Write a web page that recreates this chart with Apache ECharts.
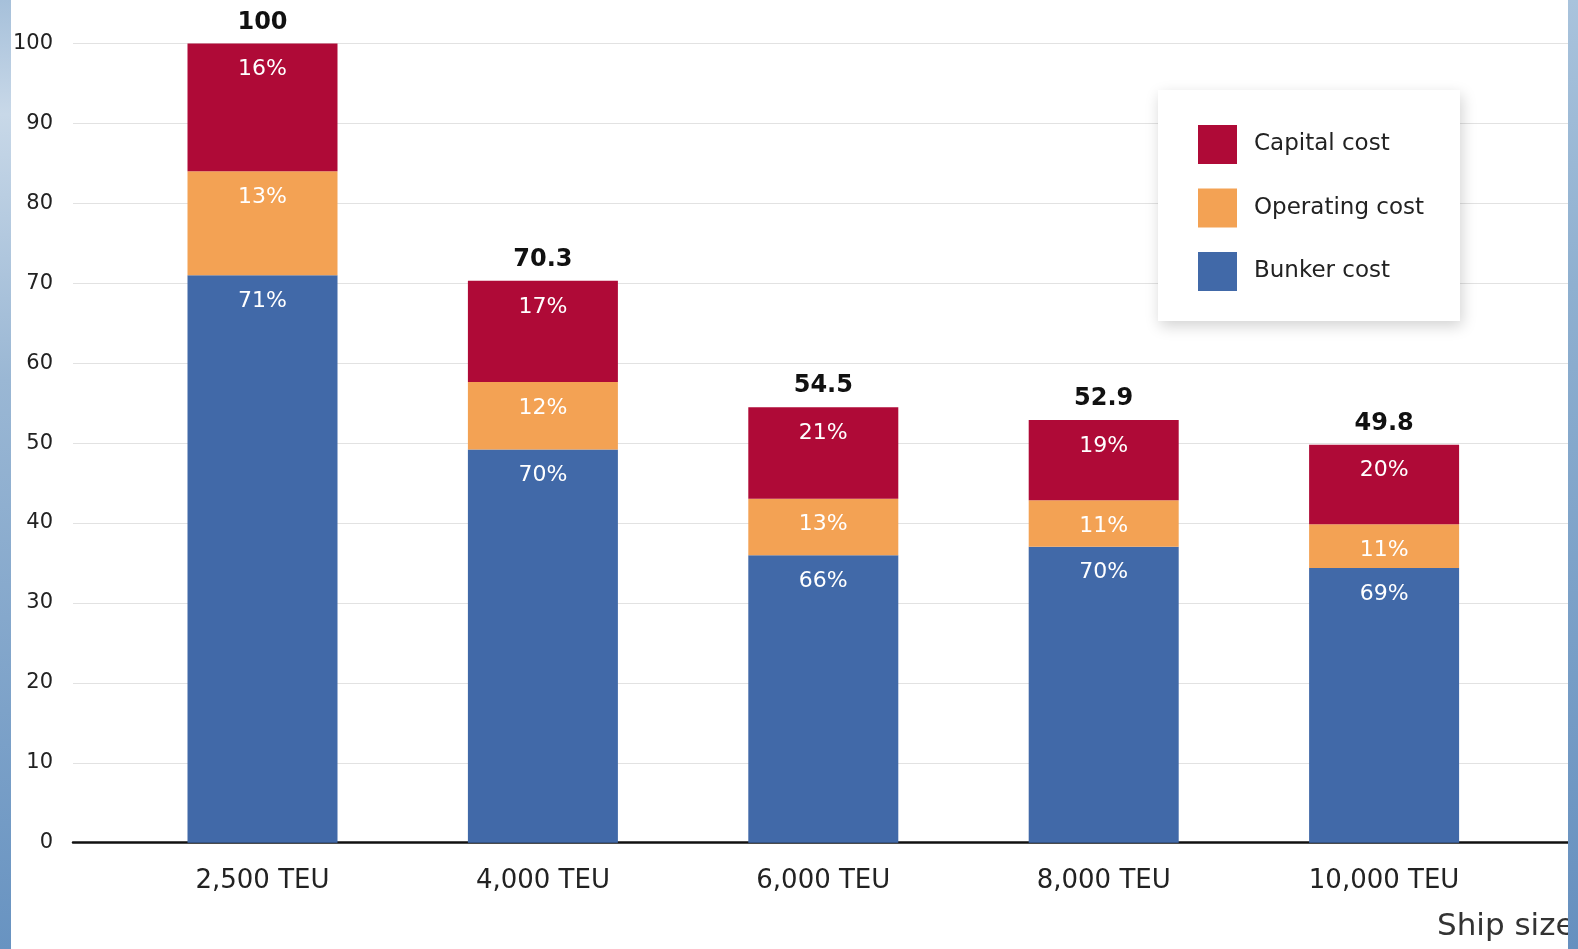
<!DOCTYPE html>
<html>
<head>
<meta charset="utf-8">
<script src="https://cdn.jsdelivr.net/npm/echarts@6/dist/echarts.min.js"></script>
<style>
  html, body { margin: 0; padding: 0; background: #ffffff; }
  #chart { width: 1578px; height: 949px; }
</style>
</head>
<body>
<div id="chart"></div>
<script>
// Ship sizes and cost index (2,500 TEU = 100)
const categories = ['2,500 TEU', '4,000 TEU', '6,000 TEU', '8,000 TEU', '10,000 TEU'];
const totals = [100, 70.3, 54.5, 52.9, 49.8];
// Share of each cost component in the total, percent
const capitalPct = [16, 17, 21, 19, 20];
const operatingPct = [13, 12, 13, 11, 11];
const bunkerPct = [71, 70, 66, 70, 69];
const yTicks = [0, 10, 20, 30, 40, 50, 60, 70, 80, 90, 100];

const COLORS = { capital: '#af0a37', operating: '#f3a254', bunker: '#4169a8' };
const FONT = 'DejaVu Sans';

// Segment heights: bunker and operating from their shares, capital fills up to the total
const bunker = totals.map((t, i) => +(t * bunkerPct[i] / 100).toFixed(2));
const operating = totals.map((t, i) => +(t * operatingPct[i] / 100).toFixed(2));
const capital = totals.map((t, i) => +(t - bunker[i] - operating[i]).toFixed(2));

const pctLabel = (arr) => ({
  show: true,
  position: 'insideTop',
  distance: 15,
  color: '#ffffff',
  fontFamily: FONT,
  fontSize: 22,
  formatter: (p) => arr[p.dataIndex] + '%'
});

const gridTop = 43.5, gridBottom = 949 - 842.7;

const chart = echarts.init(document.getElementById('chart'), null, { renderer: 'canvas' });
chart.setOption({
  backgroundColor: '#ffffff',
  animation: false,
  grid: [
    // full-width grid carrying the value scale and its gridlines
    { left: 73, right: 9, top: gridTop, bottom: gridBottom },
    // grid for the bars and ship-size categories
    { left: 122.3, right: 53.7, top: gridTop, bottom: gridBottom }
  ],
  xAxis: [
    {
      gridIndex: 0, type: 'category', data: [''],
      axisLine: { show: true, lineStyle: { color: '#111111', width: 2.5 } },
      axisTick: { show: false }, axisLabel: { show: false }
    },
    {
      gridIndex: 1, type: 'category', data: categories,
      axisLine: { show: false }, axisTick: { show: false },
      axisLabel: { color: '#222222', fontFamily: FONT, fontSize: 26, margin: 26 }
    }
  ],
  yAxis: [
    {
      gridIndex: 0, type: 'value', min: yTicks[0], max: yTicks[yTicks.length - 1], interval: 10,
      axisLine: { show: false }, axisTick: { show: false },
      axisLabel: { color: '#222222', fontFamily: FONT, fontSize: 21, margin: 20 },
      splitLine: { show: true, lineStyle: { color: '#e2e2e2', width: 1.2 } }
    },
    {
      gridIndex: 1, type: 'value', min: yTicks[0], max: yTicks[yTicks.length - 1], interval: 10,
      show: false, splitLine: { show: false }
    }
  ],
  legend: {
    data: ['Capital cost', 'Operating cost', 'Bunker cost'],
    orient: 'vertical',
    left: 1158, top: 90,
    padding: [35, 36, 30, 40],
    itemWidth: 39, itemHeight: 39, itemGap: 24.5,
    icon: 'rect',
    backgroundColor: '#ffffff',
    shadowBlur: 14, shadowOffsetX: 2, shadowOffsetY: 5, shadowColor: 'rgba(0,0,0,0.18)',
    textStyle: { color: '#222222', fontFamily: FONT, fontSize: 23, padding: [0, 0, 0, 12] },
    selectedMode: false
  },
  series: [
    {
      name: 'Bunker cost', type: 'bar', stack: 'cost', xAxisIndex: 1, yAxisIndex: 1,
      barWidth: 150, barGap: '-100%', data: bunker,
      itemStyle: { color: COLORS.bunker }, label: pctLabel(bunkerPct)
    },
    {
      name: 'Operating cost', type: 'bar', stack: 'cost', xAxisIndex: 1, yAxisIndex: 1,
      barWidth: 150, data: operating,
      itemStyle: { color: COLORS.operating }, label: pctLabel(operatingPct)
    },
    {
      name: 'Capital cost', type: 'bar', stack: 'cost', xAxisIndex: 1, yAxisIndex: 1,
      barWidth: 150, data: capital,
      itemStyle: { color: COLORS.capital }, label: pctLabel(capitalPct)
    },
    {
      // total index written above each stack
      name: 'Total', type: 'bar', xAxisIndex: 1, yAxisIndex: 1,
      barWidth: 150, barGap: '-100%', data: totals, z: 1,
      itemStyle: { color: 'rgba(0,0,0,0)' },
      label: {
        show: true, position: 'top', distance: 9,
        color: '#111111', fontFamily: FONT, fontWeight: 'bold', fontSize: 24
      },
      tooltip: { show: false }
    }
  ],
  graphic: [
    {
      type: 'text', x: 1437, y: 927, z: 10,
      style: { text: 'Ship size', fill: '#333333', font: '31px "DejaVu Sans"', verticalAlign: 'middle' }
    },
    {
      type: 'rect', left: 0, top: 0, z: 100,
      shape: { width: 11, height: 949 },
      style: {
        fill: new echarts.graphic.LinearGradient(0, 0, 0, 1, [
          { offset: 0, color: '#a6c0da' },
          { offset: 0.12, color: '#c8d8e8' },
          { offset: 0.4, color: '#9ab7d4' },
          { offset: 1, color: '#6893c1' }
        ])
      }
    },
    {
      type: 'rect', left: 1568, top: 0, z: 100,
      shape: { width: 10, height: 949 },
      style: {
        fill: new echarts.graphic.LinearGradient(0, 0, 0, 1, [
          { offset: 0, color: '#a9c3dc' },
          { offset: 0.3, color: '#8fb0d0' },
          { offset: 1, color: '#6690bf' }
        ])
      }
    }
  ]
});
</script>
</body>
</html>
